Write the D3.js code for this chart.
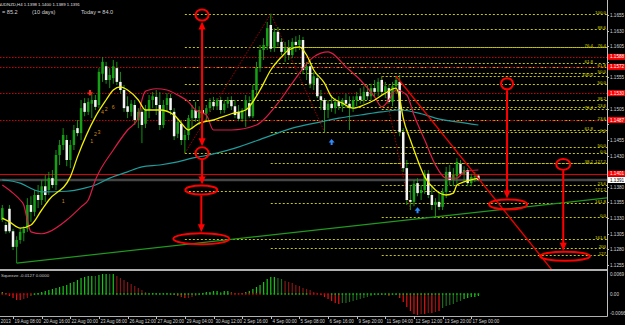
<!DOCTYPE html>
<html>
<head>
<meta charset="utf-8">
<script src="https://d3js.org/d3.v7.min.js"></script>
<style type="text/css">
  html, body { margin: 0; padding: 0; background: #000; }
  svg { display: block; }
  text { font-family: "Liberation Sans", Arial, sans-serif; }
</style>
</head>
<body>
<svg id="chart" width="625" height="325"></svg>
<script>
// AUDNZD H4, bar 0 = 19 Aug 2013 00:00 (one bar every 4 hours)
var opens = [
  1.1327,1.1319,1.1345,1.1309,1.1284,1.1295,1.1306,1.1313,1.1351,1.1340,
  1.1367,1.1359,1.1381,1.1375,1.1394,1.1383,1.1431,1.1447,1.1455,1.1423,
  1.1447,1.1474,1.1466,1.1514,1.1500,1.1513,1.1519,1.1511,1.1561,1.1573,
  1.1551,1.1554,1.1570,1.1548,1.1535,1.1509,1.1500,1.1511,1.1487,1.1500,
  1.1481,1.1503,1.1519,1.1524,1.1511,1.1479,1.1511,1.1522,1.1500,1.1465,
  1.1481,1.1455,1.1463,1.1490,1.1503,1.1490,1.1503,1.1497,1.1506,1.1516,
  1.1509,1.1519,1.1503,1.1513,1.1519,1.1509,1.1500,1.1489,1.1503,1.1514,
  1.1493,1.1535,1.1570,1.1599,1.1605,1.1639,1.1602,1.1628,1.1612,1.1596,
  1.1602,1.1591,1.1612,1.1607,1.1615,1.1567,1.1573,1.1545,1.1554,1.1525,
  1.1519,1.1503,1.1513,1.1506,1.1516,1.1509,1.1519,1.1513,1.1506,1.1519,
  1.1525,1.1519,1.1532,1.1525,1.1538,1.1532,1.1551,1.1532,1.1538,1.1516,
  1.1541,1.1548,1.1468,1.1410,1.1359,1.1356,1.1386,1.1370,1.1375,1.1401,
  1.1367,1.1351,1.1356,1.1348,1.1372,1.1404,1.1391,1.1397,1.1417,1.1401,
  1.1407,1.1386,1.1396,1.1398];
var highs = [
  1.1351,1.1324,1.1351,1.1313,1.1301,1.1314,1.1317,1.1362,1.1365,1.1375,
  1.1383,1.1391,1.1399,1.1404,1.1407,1.1439,1.1455,1.1474,1.1463,1.1455,
  1.1479,1.1487,1.1519,1.1522,1.1522,1.1532,1.1527,1.1570,1.1588,1.1580,
  1.1570,1.1583,1.1580,1.1564,1.1543,1.1525,1.1519,1.1519,1.1506,1.1506,
  1.1511,1.1527,1.1532,1.1535,1.1532,1.1519,1.1530,1.1529,1.1506,1.1490,
  1.1487,1.1471,1.1495,1.1511,1.1516,1.1509,1.1513,1.1511,1.1522,1.1524,
  1.1522,1.1524,1.1519,1.1524,1.1525,1.1519,1.1511,1.1506,1.1527,1.1525,
  1.1543,1.1580,1.1607,1.1618,1.1644,1.1657,1.1634,1.1636,1.1618,1.1612,
  1.1615,1.1618,1.1621,1.1623,1.1620,1.1580,1.1583,1.1564,1.1559,1.1535,
  1.1522,1.1519,1.1527,1.1522,1.1525,1.1522,1.1529,1.1525,1.1525,1.1532,
  1.1538,1.1541,1.1543,1.1545,1.1551,1.1554,1.1557,1.1548,1.1543,1.1548,
  1.1557,1.1559,1.1474,1.1423,1.1383,1.1391,1.1394,1.1383,1.1407,1.1407,
  1.1383,1.1362,1.1372,1.1378,1.1412,1.1415,1.1410,1.1426,1.1423,1.1413,
  1.1410,1.1401,1.1404,1.1400];
var lows = [
  1.1324,1.1305,1.1306,1.1279,1.1258,1.1289,1.1293,1.1308,1.1324,1.1333,
  1.1346,1.1351,1.1356,1.1367,1.1378,1.1375,1.1415,1.1439,1.1413,1.1410,
  1.1439,1.1461,1.1455,1.1493,1.1495,1.1490,1.1503,1.1506,1.1548,1.1545,
  1.1538,1.1545,1.1543,1.1529,1.1500,1.1490,1.1493,1.1479,1.1474,1.1450,
  1.1474,1.1490,1.1506,1.1495,1.1471,1.1474,1.1500,1.1495,1.1455,1.1458,
  1.1447,1.1434,1.1455,1.1474,1.1484,1.1479,1.1490,1.1487,1.1500,1.1503,
  1.1503,1.1497,1.1498,1.1506,1.1503,1.1490,1.1485,1.1484,1.1476,1.1490,
  1.1490,1.1527,1.1564,1.1583,1.1599,1.1596,1.1596,1.1605,1.1591,1.1580,
  1.1583,1.1586,1.1596,1.1599,1.1561,1.1551,1.1538,1.1535,1.1522,1.1503,
  1.1468,1.1490,1.1500,1.1497,1.1503,1.1500,1.1506,1.1471,1.1500,1.1509,
  1.1513,1.1513,1.1519,1.1519,1.1525,1.1525,1.1527,1.1522,1.1513,1.1509,
  1.1529,1.1461,1.1404,1.1351,1.1343,1.1349,1.1365,1.1359,1.1369,1.1362,
  1.1343,1.1332,1.1343,1.1343,1.1362,1.1383,1.1381,1.1385,1.1397,1.1388,
  1.1381,1.1381,1.1388,1.1389];
var closes = [
  1.1346,1.1309,1.1309,1.1284,1.1295,1.1308,1.1313,1.1351,1.1340,1.1367,
  1.1359,1.1381,1.1367,1.1394,1.1383,1.1431,1.1447,1.1463,1.1423,1.1447,
  1.1471,1.1466,1.1506,1.1500,1.1516,1.1519,1.1508,1.1564,1.1580,1.1551,
  1.1559,1.1573,1.1548,1.1535,1.1506,1.1500,1.1513,1.1487,1.1500,1.1479,
  1.1503,1.1519,1.1525,1.1511,1.1479,1.1511,1.1522,1.1503,1.1461,1.1484,
  1.1455,1.1463,1.1490,1.1503,1.1490,1.1503,1.1497,1.1506,1.1516,1.1509,
  1.1519,1.1503,1.1513,1.1519,1.1509,1.1495,1.1489,1.1503,1.1519,1.1493,
  1.1535,1.1570,1.1599,1.1607,1.1634,1.1601,1.1628,1.1612,1.1596,1.1602,
  1.1591,1.1612,1.1607,1.1615,1.1567,1.1573,1.1545,1.1557,1.1525,1.1519,
  1.1503,1.1513,1.1506,1.1516,1.1509,1.1519,1.1513,1.1506,1.1519,1.1525,
  1.1519,1.1532,1.1525,1.1538,1.1532,1.1548,1.1532,1.1541,1.1516,1.1541,
  1.1551,1.1468,1.1410,1.1359,1.1356,1.1385,1.1370,1.1375,1.1401,1.1367,
  1.1351,1.1356,1.1348,1.1372,1.1404,1.1391,1.1399,1.1420,1.1401,1.1407,
  1.1386,1.1396,1.1397,1.1391];

// moving averages: [bar, price]
var yellowMA = [[0,1.1330],[2,1.1324],[5,1.1314],[8,1.1319],[11,1.1343],[13,1.1359],[19,1.1396],[21,1.1428],
  [26,1.1492],[29,1.1519],[31,1.1535],[33,1.1540],[35,1.1535],[38,1.1519],[40,1.1503],[44,1.1503],[48,1.1495],
  [50,1.1482],[52,1.1471],[53,1.1474],[55,1.1482],[59,1.1487],[64,1.1497],[68,1.1503],[72,1.1535],[75,1.1567],
  [78,1.1588],[80,1.1599],[83,1.1604],[85,1.1591],[87,1.1567],[90,1.1546],[92,1.1524],[95,1.1514],[98,1.1506],
  [101,1.1511],[104,1.1519],[107,1.1530],[110,1.1538],[111,1.1522],[112,1.1490],[114,1.1455],[115,1.1439],
  [118,1.1396],[121,1.1375],[124,1.1367],[126,1.1370],[127,1.1383],[129,1.1388],[133,1.1394]];
var crimsonMA = [[0,1.1383],[3,1.1370],[5,1.1359],[6,1.1351],[7,1.1327],[8,1.1308],[11,1.1305],[13,1.1308],
  [18,1.1327],[22,1.1348],[24,1.1359],[26,1.1391],[31,1.1439],[35,1.1471],[38,1.1490],[39,1.1519],[40,1.1533],
  [41,1.1535],[43,1.1537],[46,1.1535],[49,1.1527],[52,1.1516],[54,1.1503],[57,1.1495],[59,1.1471],[64,1.1471],
  [71,1.1479],[77,1.1514],[81,1.1546],[87,1.1588],[91,1.1596],[92,1.1594],[96,1.1572],[100,1.1551],[104,1.1524],
  [106,1.1508],[108,1.1519],[110,1.1535],[113,1.1527],[115,1.1495],[118,1.1455],[121,1.1415],[124,1.1394],
  [127,1.1394],[129,1.1404],[133,1.1407]];
var tealMA = [[0,1.1391],[5,1.1386],[9,1.1375],[11,1.1372],[18,1.1373],[23,1.1378],[26,1.1383],[30,1.1394],
  [35,1.1404],[39,1.1412],[44,1.1415],[49,1.1420],[53,1.1426],[56,1.1429],[65,1.1442],[74,1.1460],[81,1.1474],
  [89,1.1484],[94,1.1490],[100,1.1495],[106,1.1500],[111,1.1503],[117,1.1497],[121,1.1490],[127,1.1484],[133,1.1479]];

// squeeze momentum histogram and colour codes (g lime, G dark green, r red, R dark red)
var squeeze = [
  0.0006,0.0003,-0.0006,-0.0012,-0.0018,-0.0018,-0.0015,-0.0012,-0.0006,-0.0003,
  0.0003,0.0006,0.0009,0.0012,0.0015,0.0018,0.0021,0.0024,0.0027,0.0033,
  0.0036,0.0042,0.0048,0.0051,0.0054,0.0054,0.0054,0.0057,0.0060,0.0060,
  0.0060,0.0060,0.0054,0.0048,0.0042,0.0036,0.0030,0.0024,0.0018,0.0012,
  0.0006,0.0003,0.0003,0.0002,0.0002,0.0002,0.0002,-0.0002,-0.0003,-0.0006,
  -0.0009,-0.0012,-0.0012,-0.0009,-0.0006,-0.0003,0.0003,0.0006,0.0006,0.0009,
  0.0009,0.0006,0.0009,0.0009,0.0006,0.0003,0.0003,0.0003,0.0006,0.0009,
  0.0015,0.0021,0.0027,0.0036,0.0045,0.0051,0.0051,0.0048,0.0045,0.0039,
  0.0036,0.0033,0.0027,0.0024,0.0018,0.0015,0.0012,0.0006,0.0003,-0.0003,
  -0.0009,-0.0015,-0.0021,-0.0027,-0.0030,-0.0027,-0.0027,-0.0024,-0.0021,-0.0018,
  -0.0015,-0.0012,-0.0009,-0.0006,-0.0003,-0.0003,-0.0003,-0.0003,-0.0006,-0.0003,
  -0.0003,-0.0012,-0.0024,-0.0039,-0.0051,-0.0060,-0.0063,-0.0060,-0.0060,-0.0057,
  -0.0057,-0.0054,-0.0051,-0.0042,-0.0036,-0.0033,-0.0030,-0.0024,-0.0021,-0.0015,
  -0.0012,-0.0009,-0.0009,-0.0006];
var squeezeColors = "gg" + "rrrr" + "RR" + "GG" + "gggggggggggggggg" + "G" + "ggg" + "G" + "g" +
  "RRRRRRRRRR" + "gg" + "R" + "gg" + "rrrrr" + "RRR" + "G" + "ggggg" + "G" + "gg" + "GGG" +
  "gggggggggg" + "GG" + "RRRRRRRRRR" + "rrrrrr" + "GGGGGGGGGGG" + "r" + "G" + "r" + "GG" +
  "rrrrrr" + "RrRrRr" + "GGGGGG" + "ggggg";
var squeezeOn = [[0, 8], [64, 72], [86, 91]];   // red dots on the zero line

// fibonacci levels: start bar, [price, label]
var fibStarts = [51, 75, 106];
var fibA = [[1.1657,"100.0"],[1.1604,"76.4"],[1.1572,"61.8"],[1.1545,"50.0"],[1.1519,"38.2"],
            [1.1487,"23.6"],[1.1434,"0.0"],[1.1373,"127.2"],[1.1297,"161.8"]];
var fibB = [[1.1633,"88.6"],[1.1604,"76.4"],[1.1578,"61.8"],[1.1562,"50.0"],[1.1508,"23.6"],
            [1.1468,"0.0"],[1.1418,"127.2"],[1.1354,"161.8"],[1.1282,"200"]];
var fibC = [[1.1557,"100.0"],[1.1505,"76.4"],[1.1471,"61.8"],[1.1444,"50.0"],[1.1418,"38.2"],
            [1.1383,"23.6"],[1.1332,"0.0"],[1.1271,"127"]];
var fibAnchors = [[51,1.1434,75,1.1657],[75,1.1657,90,1.1468],[106,1.1557,114,1.1343]];

var redLevels = [1.1588, 1.1572, 1.1530, 1.1487];
var resistance = 1.1401;
var greenTrend = [[4, 1.1258], [121, 1.1332]];
var redTrend = [[110, 1.1557], [127, 1.1436]];

var priceTicks = [1.1655,1.1630,1.1605,1.1580,1.1555,1.1530,1.1505,1.1480,1.1455,1.1430,
                  1.1405,1.1380,1.1355,1.1330,1.1305,1.1280,1.1255];
var timeLabels = [[-5,"16 Aug 2013"],[3,"19 Aug 08:00"],[11,"20 Aug 16:00"],[19,"22 Aug 00:00"],
  [27,"23 Aug 08:00"],[35,"26 Aug 12:00"],[43,"27 Aug 20:00"],[51,"29 Aug 04:00"],[59,"30 Aug 12:00"],
  [67,"2 Sep 16:00"],[75,"4 Sep 00:00"],[83,"5 Sep 08:00"],[91,"6 Sep 16:00"],[99,"9 Sep 20:00"],
  [107,"11 Sep 04:00"],[115,"12 Sep 12:00"],[123,"13 Sep 20:00"],[131,"17 Sep 00:00"]];

// hand drawn targets (bar, price) and the arrows between them
var targetMarks = [[55.8,1.1655],[55.8,1.1434],[55.6,1.1375],[55.6,1.1297],
                   [141,1.1545],[141.3,1.1352],[156.7,1.1416],[157.2,1.1269]];
var targetArrows = [[0,1,true],[1,2,false],[2,3,false],[4,5,false],[6,7,false]];
var waveLabels = [[17,1.1355,"1"],[25,1.1450,"1"],[26,1.1461,"2"],[27,1.1465,"3"],
                  [28,1.1497,"4"],[29,1.1502,"2"],[31,1.1505,"6"]];
var downArrows = [[24.5, 1.1527]];
var upArrows = [[92, 1.1455], [116, 1.1346]];

var W = 625, H = 325, plotR = 607, mainBot = 268, indTop = 271, indBot = 316;
var last = closes.length - 1;

var svg = d3.select("#chart");
svg.append("rect").attr("width", W).attr("height", H).attr("fill", "#000");

var x = d3.scaleLinear().domain([0, 133]).range([2.3, 478.4]);
var y = d3.scaleLinear().domain([1.12502, 1.1679]).range([mainBot, 0]);
var yi = d3.scaleLinear().domain([-0.0066, 0.0069]).range([indBot, indTop]);
function snap(v) { return Math.round(v) + 0.5; }

var defs = svg.append("defs");
defs.append("clipPath").attr("id", "clipMain").append("rect")
  .attr("x", 0).attr("y", 0).attr("width", plotR).attr("height", mainBot + 1);
defs.append("clipPath").attr("id", "clipInd").append("rect")
  .attr("x", 0).attr("y", indTop).attr("width", plotR).attr("height", indBot - indTop);

var main = svg.append("g").attr("clip-path", "url(#clipMain)");

// fibonacci dotted levels; labels that would sit on top of another one move left
var placed = [];
[[fibStarts[0], fibA], [fibStarts[1], fibB], [fibStarts[2], fibC]].forEach(function(s) {
  s[1].forEach(function(l) {
    var yy = snap(y(l[0]));
    main.append("line").attr("x1", x(s[0])).attr("x2", plotR).attr("y1", yy).attr("y2", yy)
      .attr("stroke", "#c8c800").attr("stroke-width", 1).attr("stroke-dasharray", "2,2");
    var lx = plotR - 1;
    while (placed.some(function(p) { return Math.abs(p[1] - yy) < 4.5 && Math.abs(p[0] - lx) < 12; })) lx -= 13;
    placed.push([lx, yy]);
    main.append("text").attr("x", lx).attr("y", yy - 1).attr("text-anchor", "end")
      .attr("font-size", 4.4).attr("fill", "#d8d800").text(l[1]);
  });
});
fibAnchors.forEach(function(a) {
  main.append("line").attr("x1", x(a[0])).attr("y1", y(a[1])).attr("x2", x(a[2])).attr("y2", y(a[3]))
    .attr("stroke", "#a00000").attr("stroke-width", 1).attr("stroke-dasharray", "1.5,1.5");
});

// red dotted levels, resistance and bid line
redLevels.forEach(function(p) {
  main.append("line").attr("x1", 0).attr("x2", plotR).attr("y1", snap(y(p))).attr("y2", snap(y(p)))
    .attr("stroke", "#d00000").attr("stroke-dasharray", "1.5,1.5");
});
main.append("line").attr("x1", 0).attr("x2", plotR).attr("y1", snap(y(resistance))).attr("y2", snap(y(resistance)))
  .attr("stroke", "#e00000").attr("stroke-width", 1);
main.append("line").attr("x1", 0).attr("x2", plotR).attr("y1", y(closes[last])).attr("y2", y(closes[last]))
  .attr("stroke", "#464646").attr("stroke-width", 2.6);

// candles
var bw = 2.5;
var candles = main.append("g");
d3.range(closes.length).forEach(function(i) {
  var bull = closes[i] > opens[i];
  candles.append("line").attr("x1", x(i)).attr("x2", x(i)).attr("y1", y(highs[i])).attr("y2", y(lows[i]))
    .attr("stroke", "#16a016").attr("stroke-width", 0.9);
  var top = y(Math.max(opens[i], closes[i])), hgt = Math.max(1, Math.abs(y(opens[i]) - y(closes[i])));
  candles.append("rect").attr("x", x(i) - bw / 2).attr("y", top).attr("width", bw).attr("height", hgt)
    .attr("fill", bull ? "#16a016" : "#f4f4f4");
});

// moving averages
var maLine = d3.line().x(function(d) { return x(d[0]); }).y(function(d) { return y(d[1]); })
  .curve(d3.curveMonotoneX);
main.append("path").attr("d", maLine(tealMA)).attr("fill", "none").attr("stroke", "#1f9c9c").attr("stroke-width", 1.2);
main.append("path").attr("d", maLine(crimsonMA)).attr("fill", "none").attr("stroke", "#dc1c48").attr("stroke-width", 1.2);
main.append("path").attr("d", maLine(yellowMA)).attr("fill", "none").attr("stroke", "#f0f000").attr("stroke-width", 1.3);

// trend lines
function ray(a, b, toBar) {
  var k = (b[1] - a[1]) / (b[0] - a[0]);
  return [x(a[0]), y(a[1]), x(toBar), y(a[1] + k * (toBar - a[0]))];
}
var g1 = ray(greenTrend[0], greenTrend[1], 169);
main.append("line").attr("x1", g1[0]).attr("y1", g1[1]).attr("x2", g1[2]).attr("y2", g1[3])
  .attr("stroke", "#1f9a1f").attr("stroke-width", 1.2);
var r1 = ray(redTrend[0], redTrend[1], 160);
main.append("line").attr("x1", r1[0]).attr("y1", r1[1]).attr("x2", r1[2]).attr("y2", r1[3])
  .attr("stroke", "#ee0000").attr("stroke-width", 1.3);

// wave counts and signal arrows
waveLabels.forEach(function(w) {
  main.append("text").attr("x", x(w[0])).attr("y", y(w[1])).attr("font-size", 5.2)
    .attr("fill", "#d08a10").attr("text-anchor", "middle").text(w[2]);
});
downArrows.forEach(function(a) {
  var ax = x(a[0]), ay = y(a[1]);
  main.append("path").attr("d", "M" + (ax - 1) + "," + (ay - 5) + "h2v2.5h2l-3,3.5l-3,-3.5h2z").attr("fill", "#ff2020");
});
upArrows.forEach(function(a) {
  var ax = x(a[0]), ay = y(a[1]);
  main.append("path").attr("d", "M" + (ax - 1) + "," + (ay + 5) + "h2v-2.5h2l-3,-3.5l-3,3.5h2z").attr("fill", "#2c8cff");
});

// hand drawn targets
var rx = [6.5, 6.5, 16, 28, 6, 19, 7, 25], ry = [5.5, 6, 4.5, 5.5, 5.5, 5, 5.5, 4.5];
var ann = svg.append("g").attr("clip-path", "url(#clipMain)");
targetMarks.forEach(function(m, i) {
  ann.append("ellipse").attr("cx", x(m[0])).attr("cy", y(m[1])).attr("rx", rx[i]).attr("ry", ry[i])
    .attr("fill", "none").attr("stroke", "#ff0000").attr("stroke-width", 2);
});
function head(hx, hy, dir) {
  ann.append("path").attr("d", "M" + hx + "," + hy + "l-3.5," + (-dir * 8) + "h7z").attr("fill", "#ff0000");
}
targetArrows.forEach(function(a) {
  var m0 = targetMarks[a[0]], m1 = targetMarks[a[1]];
  var ax = x(m0[0]), y0 = y(m0[1]) + ry[a[0]] + 1, y1 = y(m1[1]) - ry[a[1]] - 1;
  ann.append("line").attr("x1", ax).attr("x2", ax).attr("y1", y0 + (a[2] ? 5 : 0)).attr("y2", y1 - 5)
    .attr("stroke", "#ff0000").attr("stroke-width", 2);
  head(ax, y1, 1);
  if (a[2]) head(ax, y0, -1);
});

// indicator window
var ind = svg.append("g").attr("clip-path", "url(#clipInd)");
var sqColor = { g: "#19c419", G: "#1d6a1d", r: "#e21414", R: "#861616" };
squeeze.forEach(function(v, i) {
  var y0 = yi(0), y1 = yi(v);
  ind.append("rect").attr("x", x(i) - 0.6).attr("width", 1.2)
    .attr("y", Math.min(y0, y1)).attr("height", Math.max(0.6, Math.abs(y1 - y0)))
    .attr("fill", sqColor[squeezeColors.charAt(i)] || "#19c419");
  var on = squeezeOn.some(function(r) { return i >= r[0] && i <= r[1]; });
  ind.append("rect").attr("x", x(i) - 0.8).attr("y", yi(0) - 0.8).attr("width", 1.6).attr("height", 1.6)
    .attr("fill", on ? "#d00000" : "#10b010");
});
svg.append("text").attr("x", 1).attr("y", 276.5).attr("font-size", 4.4).attr("fill", "#c8c8c8")
  .text("Squeeze -0.0127 0.0000");

// frame
svg.append("rect").attr("x", 0).attr("y", 269).attr("width", plotR).attr("height", 2).attr("fill", "#b0b0b0");
svg.append("line").attr("x1", 0).attr("x2", plotR + 0.5).attr("y1", 316.5).attr("y2", 316.5).attr("stroke", "#b0b0b0");
svg.append("line").attr("x1", plotR + 0.5).attr("x2", plotR + 0.5).attr("y1", 0).attr("y2", 316.5).attr("stroke", "#c0c0c0");

// price axis; grid labels hidden under a price box are left out
var axisG = svg.append("g");
var boxed = redLevels.concat([resistance, closes[last]]);
priceTicks.forEach(function(p) {
  var yy = snap(y(p));
  axisG.append("line").attr("x1", plotR).attr("x2", plotR + 2).attr("y1", yy).attr("y2", yy).attr("stroke", "#c0c0c0");
  if (boxed.some(function(b) { return Math.abs(y(b) - y(p)) < 5.5; })) return;
  axisG.append("text").attr("x", 610).attr("y", yy + 1.6).attr("font-size", 4.6).attr("fill", "#d4d4d4")
    .text(d3.format(".4f")(p));
});
function priceBox(p, bg, fg) {
  var yy = y(p);
  axisG.append("rect").attr("x", 608).attr("y", yy - 3).attr("width", 17).attr("height", 6).attr("fill", bg);
  axisG.append("text").attr("x", 610).attr("y", yy + 1.6).attr("font-size", 4.6).attr("fill", fg)
    .text(d3.format(".4f")(p));
}
redLevels.concat([resistance]).forEach(function(p) { priceBox(p, "#ff0000", "#ffffff"); });
priceBox(closes[last], "#ffffff", "#000000");

// indicator axis
[[0.0069, "0.0069"], [0, "0.00"], [-0.0066, "-0.0066"]].forEach(function(t) {
  var yy = Math.min(Math.max(yi(t[0]), indTop + 3), indBot - 3);
  axisG.append("text").attr("x", 610).attr("y", yy + 1.6).attr("font-size", 4.6).attr("fill", "#d4d4d4").text(t[1]);
});

// time axis
timeLabels.forEach(function(t) {
  var xx = snap(x(t[0]));
  axisG.append("line").attr("x1", xx).attr("x2", xx).attr("y1", 316.5).attr("y2", 319).attr("stroke", "#c0c0c0");
  axisG.append("text").attr("x", xx + 1).attr("y", 322.8).attr("font-size", 4.5).attr("fill", "#d4d4d4").text(t[1]);
});

// header
svg.append("text").attr("x", -2).attr("y", 5.5).attr("font-size", 4.3).attr("fill", "#e0e0e0")
  .text("AUDNZD,H4 1.1398 1.1400 1.1389 1.1391");
var mono = "'DejaVu Sans Mono', 'Liberation Mono', monospace";
[[2, "= 85.2"], [32, "(10 days)"], [81, "Today = 84.0"]].forEach(function(h) {
  svg.append("text").attr("x", h[0]).attr("y", 13.8).attr("font-size", 5.6).attr("font-family", mono)
    .attr("fill", "#d0d0d0").text(h[1]);
});
</script>
</body>
</html>
